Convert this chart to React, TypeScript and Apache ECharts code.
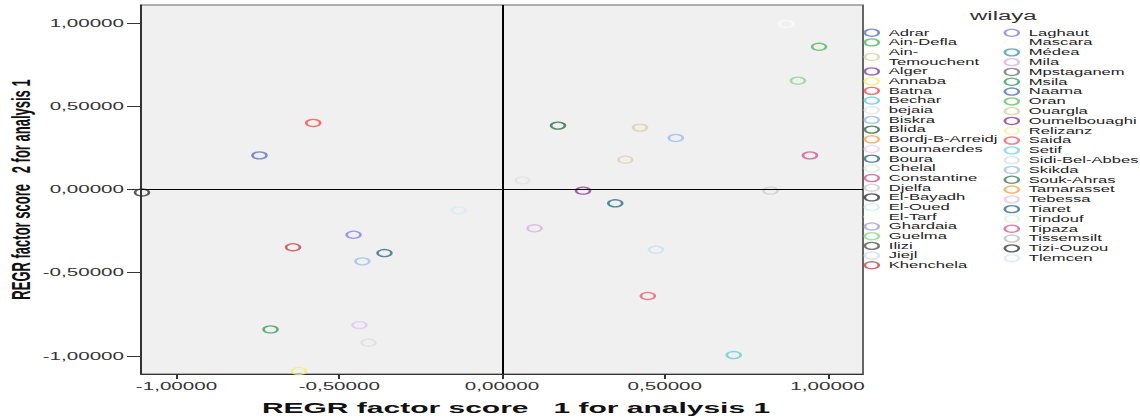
import React, { useEffect, useRef } from "react";
import * as echarts from "echarts";

// Wilaya names (legend order)
const wilayas = [
  "Adrar", "Ain-Defla", "Ain-Temouchent", "Alger", "Annaba", "Batna", "Bechar", "bejaia",
  "Biskra", "Blida", "Bordj-B-Arreidj", "Boumaerdes", "Boura", "Chelal", "Constantine", "Djelfa",
  "El-Bayadh", "El-Oued", "El-Tarf", "Ghardaia", "Guelma", "Ilizi", "Jiejl", "Khenchela",
  "Laghaut", "Mascara", "Médea", "Mila", "Mpstaganem", "Msila", "Naama", "Oran",
  "Ouargla", "Oumelbouaghi", "Relizanz", "Saida", "Setif", "Sidi-Bel-Abbes", "Skikda", "Souk-Ahras",
  "Tamarasset", "Tebessa", "Tiaret", "Tindouf", "Tipaza", "Tissemsilt", "Tizi-Ouzou", "Tlemcen",
];

const markerColors = [
  "#5a73c8", "#4cba5a", "#d9d5aa", "#8f3f98", "#f2ee70", "#ef5050", "#63cfd4", "#e2e2e2",
  "#96bde8", "#2f6e40", "#f6a54e", "#ecd0f4", "#2b6c84", "#d6f3d6", "#d4558f", "#cdcdcd",
  "#333333", "#cdeef1", "#ffffff", "#a39fd6", "#84db84", "#555555", "#c9def3", "#c64545",
  "#7f7ff0", "#fafafa", "#3c9ab8", "#d6b3e0", "#777777", "#39a05e", "#4a6fc2", "#5cc75c",
  "#d6d1a2", "#8a3d94", "#f5f1a0", "#f25a63", "#76d6dc", "#dedede", "#9cc2ea", "#3f7b55",
  "#f6a444", "#e2c3f2", "#2f6f8c", "#dcf7dc", "#d75a92", "#c0c0c0", "#3a3a3a", "#cfeef3",
];

// REGR factor score 1 (x) and 2 (y); null = not visible in the plot
const score1: (number | null)[] = [
  -0.745, 0.974, 0.379, 0.249, -0.624, -0.58, 0.712, 0.063,
  0.534, 0.172, null, null, 0.348, null, 0.946, 0.825,
  -1.106, -0.133, null, null, 0.909, null, 0.473, -0.642,
  -0.456, 0.873, null, 0.1, null, -0.711, null, null,
  0.424, null, null, 0.448, null, -0.41, -0.429, null,
  null, -0.438, -0.361, null, null, null, null, null,
];
const score2: (number | null)[] = [
  0.205, 0.858, 0.179, -0.007, -1.091, 0.4, -0.995, 0.055,
  0.31, 0.384, null, null, -0.083, null, 0.205, -0.007,
  -0.018, -0.125, null, null, 0.654, null, -0.362, -0.347,
  -0.272, 0.995, null, -0.233, null, -0.841, null, null,
  0.372, null, null, -0.64, null, -0.921, -0.432, null,
  null, -0.815, -0.382, null, null, null, null, null,
];

const tickValues = [-1, -0.5, 0, 0.5, 1];
const axisMin = -1.109;
const axisMax = 1.109;
const xTitle = "REGR factor score   1 for analysis 1";
const yTitle = "REGR factor score   2 for analysis 1";
const legendTitle = "wilaya";

const FONT = "'Liberation Sans', Arial, Helvetica, sans-serif";

const fmt = (v: number) => v.toFixed(5).replace(".", ",");

export default function App() {
  const ref = useRef<HTMLDivElement>(null);

  useEffect(() => {
    if (!ref.current) return;
    const chart = echarts.init(ref.current, undefined, { renderer: "svg" });

    const series: any[] = wilayas.map((name, i) => ({
      type: "scatter",
      name,
      data: score1[i] !== null && score2[i] !== null ? [[score1[i], score2[i]]] : [],
      symbol: "circle",
      symbolSize: 7,
      itemStyle: { color: "rgba(0,0,0,0)", borderColor: markerColors[i], borderWidth: 1.3 },
      emphasis: { disabled: true },
      silent: true,
      z: 3,
    }));

    series.push({
      type: "scatter",
      name: "__ref",
      data: [],
      silent: true,
      markLine: {
        silent: true,
        symbol: ["none", "none"],
        label: { show: false },
        lineStyle: { color: "#000", width: 1, type: "solid" },
        emphasis: { disabled: true },
        data: [{ xAxis: 0 }, { yAxis: 0 }],
      },
      z: 2,
    });

    const col1 = wilayas.slice(0, 24);
    const col2 = wilayas.slice(24);

    const legendCommon = {
      orient: "vertical",
      top: 27.85,
      padding: 0,
      itemWidth: 7,
      itemHeight: 7,
      itemGap: 0,
      icon: "circle",
      selectedMode: false,
      itemStyle: { borderWidth: 1.3 },
      formatter: (n: string) => (n === "Ain-Temouchent" ? "Ain-\nTemouchent" : n),
    };

    const axisCommon = {
      type: "value",
      min: axisMin,
      max: axisMax,
      splitLine: { show: false },
      axisLine: { show: true, onZero: false, lineStyle: { color: "#333", width: 1 } },
    };

    chart.setOption({
      animation: false,
      backgroundColor: "#ffffff",
      textStyle: { fontFamily: FONT },
      title: {
        text: legendTitle,
        left: 485,
        top: 10,
        padding: 0,
        textStyle: { fontSize: 12, fontWeight: "normal", color: "#333", fontFamily: FONT },
      },
      legend: [
        {
          ...legendCommon,
          left: 431.75,
          data: col1,
          textStyle: { fontSize: 8.3, lineHeight: 9.69, color: "#222", fontFamily: FONT },
        },
        {
          ...legendCommon,
          left: 501.75,
          data: col2,
          textStyle: { fontSize: 8.3, lineHeight: 9.8, color: "#222", fontFamily: FONT },
        },
      ],
      grid: {
        left: 70.5,
        top: 5,
        width: 361,
        height: 369,
        outerBoundsMode: "none",
        containLabel: false,
        show: true,
        backgroundColor: "#f0f0f0",
        borderColor: "#666",
        borderWidth: 1,
      },
      xAxis: {
        ...axisCommon,
        position: "bottom",
        axisTick: { show: true, customValues: tickValues, length: 5, lineStyle: { color: "#333" } },
        axisLabel: {
          customValues: tickValues,
          formatter: fmt,
          fontSize: 10.3,
          color: "#333",
          margin: 7,
          fontFamily: FONT,
        },
        name: xTitle,
        nameLocation: "middle",
        nameGap: 26,
        nameMoveOverlap: false,
        nameTextStyle: { fontSize: 15, fontWeight: "bold", color: "#111", fontFamily: FONT, padding: [0, 0, 0, 14] },
      },
      yAxis: {
        ...axisCommon,
        position: "left",
        axisTick: { show: true, customValues: tickValues, length: 7, lineStyle: { color: "#333" } },
        axisLabel: {
          customValues: tickValues,
          formatter: fmt,
          fontSize: 10.3,
          color: "#333",
          margin: 8.5,
          fontFamily: FONT,
        },
        name: yTitle,
        nameLocation: "middle",
        nameGap: 54,
        nameMoveOverlap: false,
        nameTextStyle: { fontSize: 13, fontWeight: "bold", color: "#111", fontFamily: FONT },
      },
      series,
    });

    return () => chart.dispose();
  }, []);

  return (
    <div
      ref={ref}
      style={{
        position: "absolute",
        left: 0,
        top: 0,
        width: 570,
        height: 419,
        transform: "scaleX(2)",
        transformOrigin: "0 0",
      }}
    />
  );
}
